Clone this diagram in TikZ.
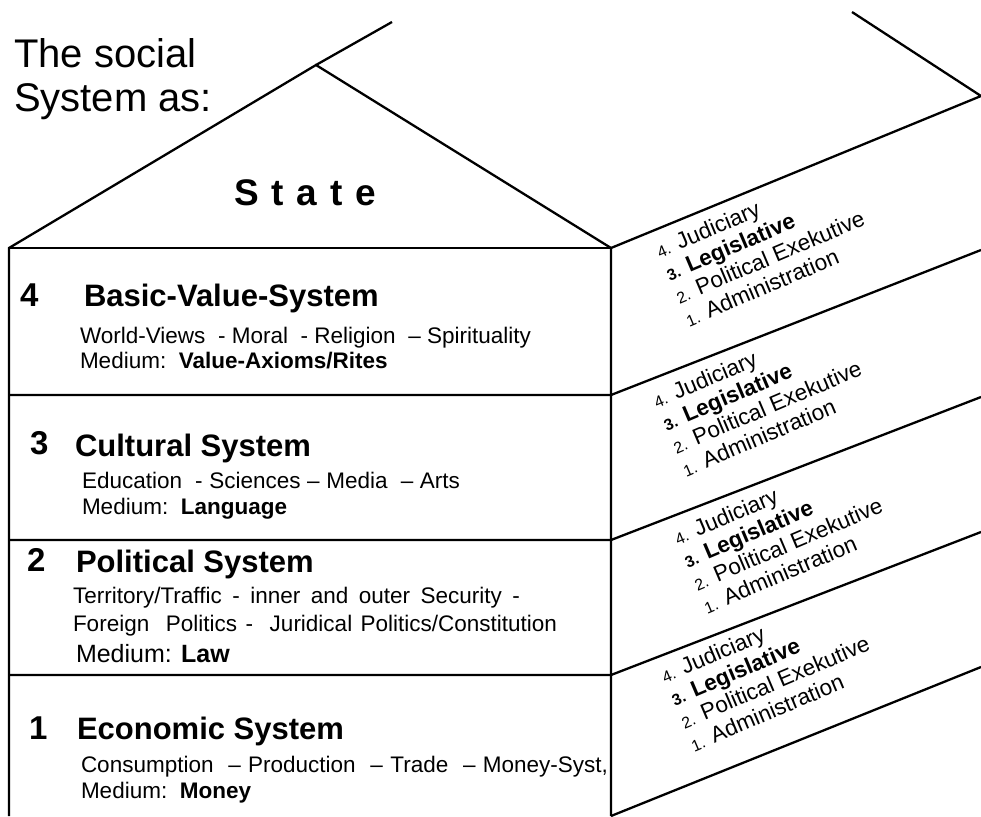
\documentclass[tikz,border=0pt]{standalone}
\usepackage{fontspec}
\setmainfont{Liberation Sans}
\newcommand\smn[1]{{\fontsize{16}{18}\selectfont #1}}
\newcommand\fitw[2]{\makebox[#1pt][s]{#2}}
\newcommand\rblock[3]{%
  \node[rt] (#1a) at (#2,#3) {\smn{4.} Judiciary};
  \node[rt] (#1b) at ({#2+9.8},{#3+23}) {\smn{\bfseries 3.} \textbf{Legislative}};
  \node[rt] (#1c) at ({#2+19.6},{#3+46}) {\smn{2.} Political Exekutive};
  \node[rt] (#1d) at ({#2+29.4},{#3+69}) {\smn{1.} Administration};
}
\begin{document}
\begin{tikzpicture}[x=1pt,y=-1pt, line width=2.3pt, line join=miter, line cap=butt,
  lbl/.style={anchor=base west, inner sep=0pt, outer sep=0pt},
  ttl/.style={lbl, font=\fontsize{40}{44}\selectfont},
  num/.style={lbl, font=\fontsize{33}{36}\selectfont\bfseries},
  head/.style={lbl, font=\fontsize{31}{34}\selectfont\bfseries},
  sub/.style={lbl, font=\fontsize{22.5}{26}\selectfont},
  rt/.style={lbl, rotate=23, font=\fontsize{22.5}{25}\selectfont}]
\useasboundingbox (0,0) rectangle (981,816);
% geometry
\coordinate (bl) at (9,816);
\coordinate (br) at (611,816);
\coordinate (rl) at (9,248);
\coordinate (rr) at (611,248);
\coordinate (apex) at (316,65);
\coordinate (ridge) at (392,22);
\coordinate (far1) at (852,12);
\coordinate (far2) at (981,96);
\coordinate (d3l) at (9,395);   \coordinate (d3r) at (611,395);
\coordinate (d2l) at (9,540);   \coordinate (d2r) at (611,540);
\coordinate (d1l) at (9,675);   \coordinate (d1r) at (611,675);
\coordinate (e3) at (981,250);
\coordinate (e2) at (981,397);
\coordinate (e1) at (981,532);
\coordinate (e0) at (981,667);
% house
\draw (bl) -- (rl) -- (apex) -- (rr) -- (br);
\draw (rl) -- (rr);
\draw (apex) -- (ridge);
\draw (far1) -- (far2) -- (rr);
\draw (d3l) -- (d3r) -- (e3);
\draw (d2l) -- (d2r) -- (e2);
\draw (d1l) -- (d1r) -- (e1);
\draw (br) -- (e0);
% title
\node[ttl] (t1) at (14,67) {The social};
\node[ttl] (t2) at (14,111) {System as:};
\node[lbl, font=\fontsize{37}{40}\selectfont\bfseries] (state) at (234,205)
  {S\kern13pt{}t\kern13pt{}a\kern13pt{}t\kern13pt{}e};
% level 4
\node[num] (n4) at (20,306) {4};
\node[head] (h4) at (84,306) {Basic-Value-System};
\node[sub] (s4a) at (80,343) {\fitw{451}{World-Views\ \ - Moral\ \ - Religion\ \ – Spirituality}};
\node[sub] (s4b) at (80,368) {Medium:\ \ \textbf{Value-Axioms/Rites}};
% level 3
\node[num] (n3) at (30,454) {3};
\node[head] (h3) at (75,456) {Cultural System};
\node[sub] (s3a) at (82,488) {\fitw{378}{Education\ \ - Sciences – Media\ \ – Arts}};
\node[sub] (s3b) at (82,514) {Medium:\ \ \textbf{Language}};
% level 2
\node[num] (n2) at (27,571) {2};
\node[head] (h2) at (76,572) {Political System};
\node[sub] (s2a) at (73,603) {\fitw{447}{Territory/Traffic\ - inner and outer Security -}};
\node[sub] (s2b) at (73,631) {\fitw{484}{Foreign\ \ Politics -\ \ Juridical Politics/Constitution}};
\node[lbl, font=\fontsize{25}{28}\selectfont] (s2c) at (76,662) {Medium: \textbf{Law}};
% level 1
\node[num] (n1) at (29,739) {1};
\node[head] (h1) at (77,739) {Economic System};
\node[sub] (s1a) at (81,772) {\fitw{527}{Consumption\ \ – Production\ \ – Trade\ \ – Money-Syst,}};
\node[sub] (s1b) at (81,798) {Medium:\ \ \textbf{Money}};
% right side blocks
\rblock{ra}{660}{258}
\rblock{rb}{657}{408}
\rblock{rc}{678}{545}
\rblock{rd}{665}{683}
\end{tikzpicture}
\end{document}
